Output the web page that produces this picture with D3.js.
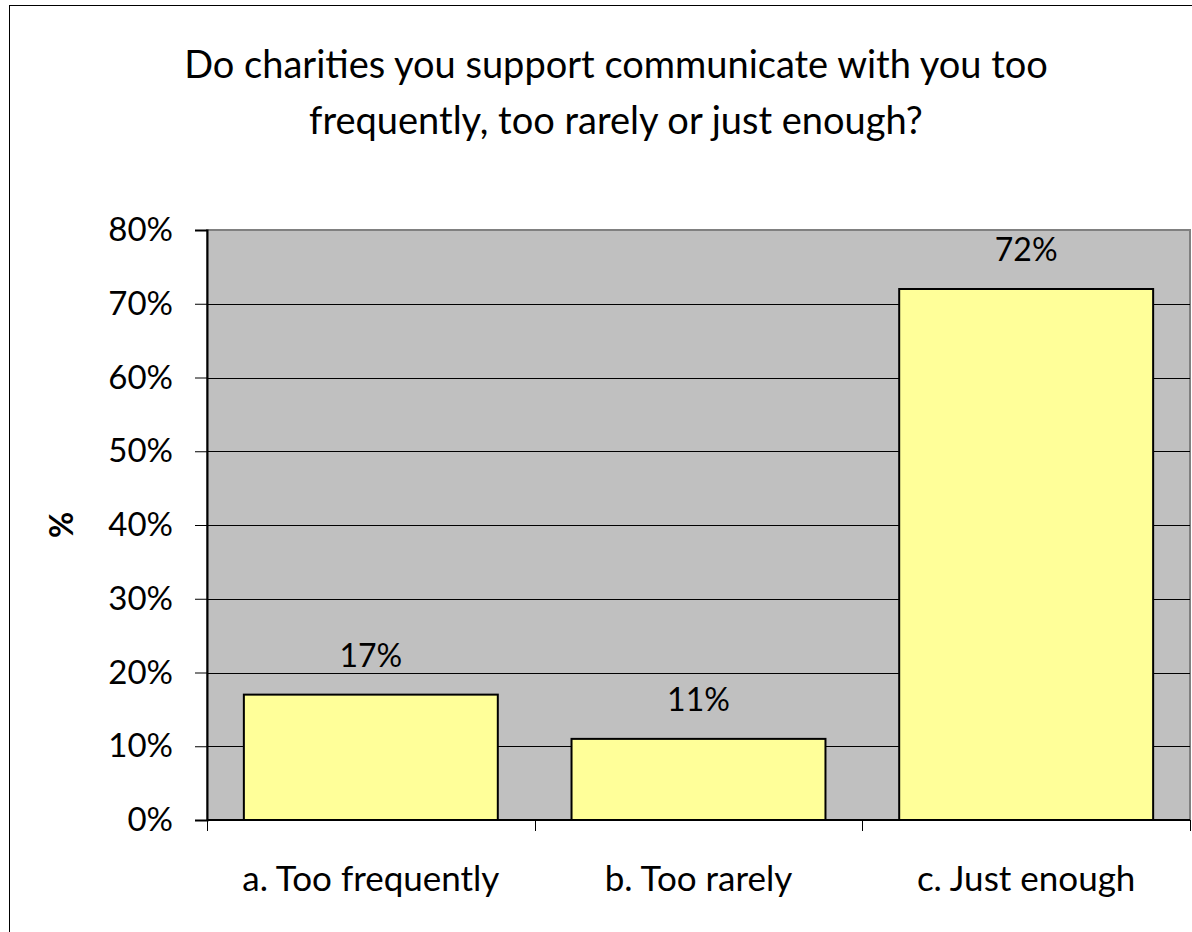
<!DOCTYPE html>
<html>
<head>
<meta charset="utf-8">
<script src="https://cdn.jsdelivr.net/npm/d3@7"></script>
<style>
  html, body { margin: 0; padding: 0; background: #fff; }
  svg { display: block; }
  text { font-family: Lato, "Open Sans", sans-serif; fill: #000; }
</style>
</head>
<body>
<svg id="chart" width="1192" height="932"></svg>
<script>
// Survey responses (percent of respondents)
const categories = ["a. Too frequently", "b. Too rarely", "c. Just enough"];
const values = [17, 11, 72];
const yTicks = [0, 10, 20, 30, 40, 50, 60, 70, 80];
const titleLines = ["Do charities you support communicate with you too", "frequently, too rarely or just enough?"];
const yAxisTitle = "%";

const svg = d3.select("#chart");
const W = 1192, H = 932;
const plot = { left: 207, right: 1190, top: 230, bottom: 820 };

// outer chart frame
svg.append("rect")
  .attr("x", 9.5).attr("y", 5.5)
  .attr("width", W + 20).attr("height", H + 20)
  .attr("fill", "#fff").attr("stroke", "#000").attr("stroke-width", 1);

const x = d3.scaleBand().domain(categories).range([plot.left, plot.right]).paddingInner(0.225).paddingOuter(0.1125);
const xOuter = d3.scaleBand().domain(categories).range([plot.left, plot.right]).padding(0);
const y = d3.scaleLinear().domain([0, 80]).range([plot.bottom, plot.top]);

// plot background
svg.append("rect")
  .attr("x", plot.left).attr("y", plot.top)
  .attr("width", plot.right - plot.left).attr("height", plot.bottom - plot.top)
  .attr("fill", "#c0c0c0").attr("stroke", "#808080").attr("stroke-width", 2);

// horizontal gridlines
svg.append("g").selectAll("line").data(yTicks.filter(d => d > 0 && d < 80)).join("line")
  .attr("x1", plot.left).attr("x2", plot.right)
  .attr("y1", d => Math.round(y(d)) + 0.5).attr("y2", d => Math.round(y(d)) + 0.5)
  .attr("stroke", "#000").attr("stroke-width", 1);

// bars
svg.append("g").selectAll("rect").data(values).join("rect")
  .attr("x", (d, i) => x(categories[i]))
  .attr("y", d => y(d))
  .attr("width", x.bandwidth())
  .attr("height", d => y(0) - y(d))
  .attr("fill", "#ffff99").attr("stroke", "#000").attr("stroke-width", 2);

// value labels
svg.append("g").selectAll("text").data(values).join("text")
  .attr("x", (d, i) => x(categories[i]) + x.bandwidth() / 2)
  .attr("y", d => y(d) - 28)
  .attr("text-anchor", "middle")
  .attr("font-size", 32)
  .text(d => d + "%");

// y axis
const yAxis = svg.append("g")
  .attr("transform", `translate(${plot.left},0)`)
  .call(d3.axisLeft(y).tickValues(yTicks).tickFormat(d => d + "%").tickSize(12).tickPadding(22));
yAxis.select(".domain").attr("stroke", "#000").attr("stroke-width", 2);
yAxis.selectAll(".tick line").attr("stroke", "#000");
yAxis.selectAll(".tick text").attr("font-size", 33).attr("font-family", "Lato, sans-serif").attr("fill", "#000");

// x axis with tick marks on category boundaries
const xAxis = svg.append("g").attr("transform", `translate(0,${plot.bottom})`);
xAxis.append("line")
  .attr("x1", plot.left).attr("x2", plot.right)
  .attr("stroke", "#000").attr("stroke-width", 2);
const bounds = categories.map(c => xOuter(c)).concat([plot.right]);
xAxis.selectAll("line.tk").data(bounds).join("line").attr("class", "tk")
  .attr("x1", d => Math.round(d) + 0.5).attr("x2", d => Math.round(d) + 0.5)
  .attr("y1", 0).attr("y2", 11)
  .attr("stroke", "#000");
xAxis.selectAll("text").data(categories).join("text")
  .attr("x", d => xOuter(d) + xOuter.bandwidth() / 2)
  .attr("y", 71)
  .attr("text-anchor", "middle")
  .attr("font-size", 35)
  .text(d => d);

// y axis title
svg.append("text")
  .attr("transform", `translate(73,${(plot.top + plot.bottom) / 2}) rotate(-90)`)
  .attr("text-anchor", "middle")
  .attr("font-size", 32).attr("font-weight", "bold")
  .text(yAxisTitle);

// chart title
svg.append("g").selectAll("text").data(titleLines).join("text")
  .attr("x", 616)
  .attr("y", (d, i) => 78 + i * 56)
  .attr("text-anchor", "middle")
  .attr("font-size", 38)
  .text(d => d);
</script>
</body>
</html>
